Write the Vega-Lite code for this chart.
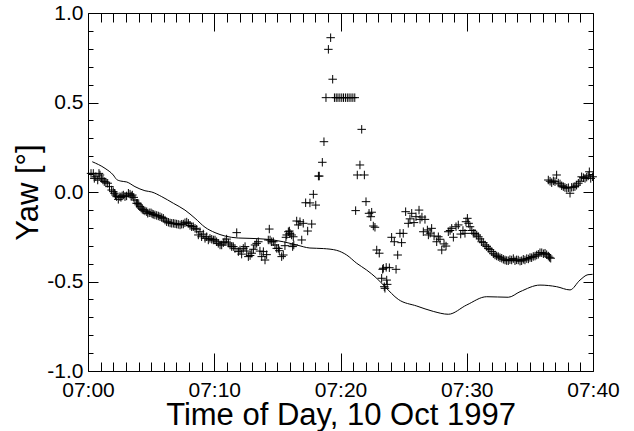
{
  "$schema": "https://vega.github.io/schema/vega-lite/v6.json",
  "width": 505,
  "height": 358,
  "autosize": {"type": "none"},
  "padding": {"left": 88, "top": 13, "right": 41, "bottom": 60},
  "background": "white",
  "config": {"view": {"stroke": null}, "font": "Liberation Sans"},
  "datasets": {
    "model": [
      {"t": 0.34, "yaw": 0.169}, {"t": 1.35, "yaw": 0.132}, {"t": 2.0, "yaw": 0.095}, {"t": 2.27, "yaw": 0.07},
      {"t": 2.6, "yaw": 0.061}, {"t": 3.07, "yaw": 0.056}, {"t": 3.72, "yaw": 0.030}, {"t": 4.51, "yaw": 0.007},
      {"t": 5.05, "yaw": 0.0}, {"t": 5.84, "yaw": -0.026}, {"t": 6.76, "yaw": -0.063}, {"t": 7.68, "yaw": -0.101},
      {"t": 8.48, "yaw": -0.147}, {"t": 9.27, "yaw": -0.197}, {"t": 10.06, "yaw": -0.227}, {"t": 10.85, "yaw": -0.246},
      {"t": 11.9, "yaw": -0.257}, {"t": 12.83, "yaw": -0.259}, {"t": 14.15, "yaw": -0.264}, {"t": 15.47, "yaw": -0.278},
      {"t": 16.53, "yaw": -0.296}, {"t": 17.58, "yaw": -0.313}, {"t": 18.64, "yaw": -0.316}, {"t": 19.7, "yaw": -0.326},
      {"t": 20.49, "yaw": -0.352}, {"t": 21.28, "yaw": -0.398}, {"t": 22.07, "yaw": -0.436}, {"t": 22.87, "yaw": -0.482},
      {"t": 23.52, "yaw": -0.529}, {"t": 24.58, "yaw": -0.6}, {"t": 26.04, "yaw": -0.637}, {"t": 27.35, "yaw": -0.667},
      {"t": 28.54, "yaw": -0.683}, {"t": 30.0, "yaw": -0.631}, {"t": 31.58, "yaw": -0.585}, {"t": 33.29, "yaw": -0.588},
      {"t": 34.22, "yaw": -0.557}, {"t": 35.8, "yaw": -0.52}, {"t": 37.12, "yaw": -0.529}, {"t": 38.18, "yaw": -0.547},
      {"t": 38.97, "yaw": -0.492}, {"t": 39.6, "yaw": -0.462}, {"t": 39.97, "yaw": -0.46}
    ],
    "measured": [
      {"t": 0.24, "yaw": 0.104}, {"t": 0.42, "yaw": 0.104}, {"t": 0.5, "yaw": 0.076}, {"t": 0.62, "yaw": 0.085},
      {"t": 0.77, "yaw": 0.067}, {"t": 0.87, "yaw": 0.104}, {"t": 0.95, "yaw": 0.095}, {"t": 1.08, "yaw": 0.076},
      {"t": 1.18, "yaw": 0.067}, {"t": 1.29, "yaw": 0.058}, {"t": 1.42, "yaw": 0.055}, {"t": 1.56, "yaw": 0.049},
      {"t": 1.7, "yaw": 0.03}, {"t": 1.87, "yaw": 0.011}, {"t": 2.0, "yaw": 0.002}, {"t": 2.09, "yaw": -0.007},
      {"t": 2.18, "yaw": -0.017}, {"t": 2.27, "yaw": -0.026}, {"t": 2.4, "yaw": -0.041}, {"t": 2.53, "yaw": -0.026},
      {"t": 2.61, "yaw": -0.03}, {"t": 2.7, "yaw": -0.022}, {"t": 2.8, "yaw": -0.017}, {"t": 2.93, "yaw": -0.026},
      {"t": 3.06, "yaw": -0.022}, {"t": 3.2, "yaw": -0.007}, {"t": 3.33, "yaw": -0.012}, {"t": 3.42, "yaw": -0.022},
      {"t": 3.51, "yaw": -0.017}, {"t": 3.62, "yaw": -0.03}, {"t": 3.72, "yaw": -0.045}, {"t": 3.85, "yaw": -0.063},
      {"t": 3.93, "yaw": -0.063}, {"t": 4.02, "yaw": -0.072}, {"t": 4.12, "yaw": -0.082}, {"t": 4.21, "yaw": -0.09},
      {"t": 4.3, "yaw": -0.097}, {"t": 4.38, "yaw": -0.101}, {"t": 4.51, "yaw": -0.106}, {"t": 4.65, "yaw": -0.11},
      {"t": 4.73, "yaw": -0.119}, {"t": 4.85, "yaw": -0.116}, {"t": 4.99, "yaw": -0.116}, {"t": 5.08, "yaw": -0.122},
      {"t": 5.17, "yaw": -0.125}, {"t": 5.3, "yaw": -0.128}, {"t": 5.44, "yaw": -0.131}, {"t": 5.57, "yaw": -0.134},
      {"t": 5.7, "yaw": -0.138}, {"t": 5.84, "yaw": -0.143}, {"t": 5.97, "yaw": -0.147}, {"t": 6.1, "yaw": -0.157},
      {"t": 6.23, "yaw": -0.166}, {"t": 6.37, "yaw": -0.169}, {"t": 6.5, "yaw": -0.173}, {"t": 6.63, "yaw": -0.175},
      {"t": 6.76, "yaw": -0.175}, {"t": 6.89, "yaw": -0.177}, {"t": 7.02, "yaw": -0.179}, {"t": 7.15, "yaw": -0.181},
      {"t": 7.29, "yaw": -0.184}, {"t": 7.42, "yaw": -0.18}, {"t": 7.55, "yaw": -0.179}, {"t": 7.68, "yaw": -0.172},
      {"t": 7.82, "yaw": -0.168}, {"t": 7.95, "yaw": -0.175}, {"t": 8.08, "yaw": -0.187}, {"t": 8.21, "yaw": -0.194},
      {"t": 8.34, "yaw": -0.194}, {"t": 8.48, "yaw": -0.203}, {"t": 8.61, "yaw": -0.208}, {"t": 8.74, "yaw": -0.24},
      {"t": 8.87, "yaw": -0.222}, {"t": 9.0, "yaw": -0.25}, {"t": 9.13, "yaw": -0.235}, {"t": 9.27, "yaw": -0.259},
      {"t": 9.4, "yaw": -0.25}, {"t": 9.53, "yaw": -0.268}, {"t": 9.66, "yaw": -0.259}, {"t": 9.8, "yaw": -0.264},
      {"t": 9.93, "yaw": -0.268}, {"t": 10.06, "yaw": -0.268}, {"t": 10.19, "yaw": -0.278}, {"t": 10.32, "yaw": -0.287},
      {"t": 10.46, "yaw": -0.296}, {"t": 10.59, "yaw": -0.296}, {"t": 10.72, "yaw": -0.283}, {"t": 10.85, "yaw": -0.278},
      {"t": 10.98, "yaw": -0.263}, {"t": 11.12, "yaw": -0.285}, {"t": 11.25, "yaw": -0.296}, {"t": 11.38, "yaw": -0.305},
      {"t": 11.51, "yaw": -0.305}, {"t": 11.64, "yaw": -0.315}, {"t": 11.78, "yaw": -0.227}, {"t": 11.91, "yaw": -0.333},
      {"t": 12.04, "yaw": -0.324}, {"t": 12.17, "yaw": -0.347}, {"t": 12.3, "yaw": -0.315}, {"t": 12.44, "yaw": -0.305},
      {"t": 12.57, "yaw": -0.33}, {"t": 12.7, "yaw": -0.361}, {"t": 12.84, "yaw": -0.355}, {"t": 12.97, "yaw": -0.342},
      {"t": 13.1, "yaw": -0.32}, {"t": 13.23, "yaw": -0.296}, {"t": 13.36, "yaw": -0.287}, {"t": 13.49, "yaw": -0.278},
      {"t": 13.62, "yaw": -0.33}, {"t": 13.76, "yaw": -0.361}, {"t": 13.89, "yaw": -0.333}, {"t": 14.02, "yaw": -0.38},
      {"t": 14.15, "yaw": -0.35}, {"t": 14.28, "yaw": -0.268}, {"t": 14.36, "yaw": -0.207}, {"t": 14.42, "yaw": -0.268},
      {"t": 14.55, "yaw": -0.278}, {"t": 14.68, "yaw": -0.278}, {"t": 14.81, "yaw": -0.296}, {"t": 14.95, "yaw": -0.315},
      {"t": 15.08, "yaw": -0.315}, {"t": 15.15, "yaw": -0.328}, {"t": 15.34, "yaw": -0.361}, {"t": 15.47, "yaw": -0.352},
      {"t": 15.6, "yaw": -0.3}, {"t": 15.68, "yaw": -0.253}, {"t": 15.74, "yaw": -0.24}, {"t": 15.87, "yaw": -0.222},
      {"t": 15.95, "yaw": -0.218}, {"t": 16.0, "yaw": -0.231}, {"t": 16.13, "yaw": -0.24}, {"t": 16.21, "yaw": -0.305},
      {"t": 16.26, "yaw": -0.25}, {"t": 16.3, "yaw": -0.296}, {"t": 16.53, "yaw": -0.162}, {"t": 16.66, "yaw": -0.184},
      {"t": 16.79, "yaw": -0.166}, {"t": 16.93, "yaw": -0.268}, {"t": 17.05, "yaw": -0.175}, {"t": 17.24, "yaw": -0.06},
      {"t": 17.4, "yaw": -0.218}, {"t": 17.58, "yaw": -0.061}, {"t": 17.72, "yaw": -0.179}, {"t": 17.85, "yaw": -0.013},
      {"t": 18.04, "yaw": -0.073}, {"t": 18.25, "yaw": 0.089}, {"t": 18.32, "yaw": 0.089}, {"t": 18.56, "yaw": 0.166},
      {"t": 18.69, "yaw": 0.281}, {"t": 18.85, "yaw": 0.527}, {"t": 19.04, "yaw": 0.797}, {"t": 19.22, "yaw": 0.862},
      {"t": 19.38, "yaw": 0.63}, {"t": 19.52, "yaw": 0.527}, {"t": 19.66, "yaw": 0.527}, {"t": 19.8, "yaw": 0.527},
      {"t": 19.95, "yaw": 0.527}, {"t": 20.1, "yaw": 0.527}, {"t": 20.24, "yaw": 0.527}, {"t": 20.39, "yaw": 0.527},
      {"t": 20.54, "yaw": 0.527}, {"t": 20.68, "yaw": 0.527}, {"t": 20.83, "yaw": 0.527}, {"t": 20.98, "yaw": 0.527},
      {"t": 21.13, "yaw": 0.527}, {"t": 21.2, "yaw": -0.104}, {"t": 21.33, "yaw": 0.095}, {"t": 21.54, "yaw": 0.151},
      {"t": 21.68, "yaw": 0.35}, {"t": 21.89, "yaw": 0.095}, {"t": 22.02, "yaw": -0.054}, {"t": 22.26, "yaw": -0.119},
      {"t": 22.4, "yaw": -0.138}, {"t": 22.47, "yaw": -0.113}, {"t": 22.6, "yaw": -0.19}, {"t": 22.73, "yaw": -0.197},
      {"t": 22.87, "yaw": -0.324}, {"t": 23.07, "yaw": -0.342}, {"t": 23.26, "yaw": -0.482}, {"t": 23.34, "yaw": -0.432},
      {"t": 23.39, "yaw": -0.426}, {"t": 23.47, "yaw": -0.529}, {"t": 23.52, "yaw": -0.538}, {"t": 23.62, "yaw": -0.421},
      {"t": 23.66, "yaw": -0.492}, {"t": 23.7, "yaw": -0.516}, {"t": 23.87, "yaw": -0.423}, {"t": 24.05, "yaw": -0.253},
      {"t": 24.26, "yaw": -0.278}, {"t": 24.4, "yaw": -0.432}, {"t": 24.53, "yaw": -0.352}, {"t": 24.71, "yaw": -0.231},
      {"t": 24.84, "yaw": -0.283}, {"t": 24.97, "yaw": -0.231}, {"t": 25.16, "yaw": -0.11}, {"t": 25.37, "yaw": -0.175},
      {"t": 25.5, "yaw": -0.15}, {"t": 25.64, "yaw": -0.119}, {"t": 25.82, "yaw": -0.171}, {"t": 25.98, "yaw": -0.138},
      {"t": 26.22, "yaw": -0.101}, {"t": 26.3, "yaw": -0.153}, {"t": 26.45, "yaw": -0.14}, {"t": 26.56, "yaw": -0.222},
      {"t": 26.69, "yaw": -0.153}, {"t": 26.88, "yaw": -0.212}, {"t": 26.96, "yaw": -0.24}, {"t": 27.1, "yaw": -0.23},
      {"t": 27.22, "yaw": -0.203}, {"t": 27.41, "yaw": -0.246}, {"t": 27.62, "yaw": -0.278}, {"t": 27.75, "yaw": -0.25},
      {"t": 27.88, "yaw": -0.264}, {"t": 28.02, "yaw": -0.324}, {"t": 28.2, "yaw": -0.29}, {"t": 28.36, "yaw": -0.302},
      {"t": 28.54, "yaw": -0.222}, {"t": 28.68, "yaw": -0.215}, {"t": 28.81, "yaw": -0.203}, {"t": 28.94, "yaw": -0.253},
      {"t": 29.15, "yaw": -0.194}, {"t": 29.33, "yaw": -0.184}, {"t": 29.52, "yaw": -0.235}, {"t": 29.7, "yaw": -0.215},
      {"t": 29.86, "yaw": -0.231}, {"t": 29.94, "yaw": -0.166}, {"t": 30.05, "yaw": -0.147}, {"t": 30.15, "yaw": -0.175},
      {"t": 30.26, "yaw": -0.194}, {"t": 30.4, "yaw": -0.215}, {"t": 30.52, "yaw": -0.231}, {"t": 30.65, "yaw": -0.231},
      {"t": 30.79, "yaw": -0.24}, {"t": 30.92, "yaw": -0.25}, {"t": 31.05, "yaw": -0.262}, {"t": 31.18, "yaw": -0.278},
      {"t": 31.31, "yaw": -0.283}, {"t": 31.45, "yaw": -0.296}, {"t": 31.58, "yaw": -0.305}, {"t": 31.71, "yaw": -0.315},
      {"t": 31.84, "yaw": -0.322}, {"t": 31.98, "yaw": -0.333}, {"t": 32.11, "yaw": -0.345}, {"t": 32.24, "yaw": -0.352},
      {"t": 32.37, "yaw": -0.357}, {"t": 32.5, "yaw": -0.361}, {"t": 32.63, "yaw": -0.367}, {"t": 32.77, "yaw": -0.37},
      {"t": 32.9, "yaw": -0.376}, {"t": 33.03, "yaw": -0.38}, {"t": 33.16, "yaw": -0.383}, {"t": 33.29, "yaw": -0.384},
      {"t": 33.42, "yaw": -0.378}, {"t": 33.56, "yaw": -0.38}, {"t": 33.69, "yaw": -0.372}, {"t": 33.82, "yaw": -0.384},
      {"t": 33.95, "yaw": -0.379}, {"t": 34.08, "yaw": -0.38}, {"t": 34.22, "yaw": -0.386}, {"t": 34.35, "yaw": -0.384},
      {"t": 34.48, "yaw": -0.376}, {"t": 34.61, "yaw": -0.38}, {"t": 34.75, "yaw": -0.372}, {"t": 34.88, "yaw": -0.374},
      {"t": 35.01, "yaw": -0.366}, {"t": 35.14, "yaw": -0.367}, {"t": 35.27, "yaw": -0.36}, {"t": 35.41, "yaw": -0.358},
      {"t": 35.54, "yaw": -0.352}, {"t": 35.67, "yaw": -0.348}, {"t": 35.8, "yaw": -0.339}, {"t": 35.94, "yaw": -0.339},
      {"t": 36.07, "yaw": -0.345}, {"t": 36.2, "yaw": -0.342}, {"t": 36.33, "yaw": -0.35}, {"t": 36.46, "yaw": -0.358},
      {"t": 36.55, "yaw": -0.365}, {"t": 36.65, "yaw": -0.37},
      {"t": 36.46, "yaw": 0.067}, {"t": 36.6, "yaw": 0.06}, {"t": 36.73, "yaw": 0.052}, {"t": 36.86, "yaw": 0.062},
      {"t": 36.99, "yaw": 0.058}, {"t": 37.12, "yaw": 0.095}, {"t": 37.25, "yaw": 0.05}, {"t": 37.39, "yaw": 0.045},
      {"t": 37.52, "yaw": 0.035}, {"t": 37.65, "yaw": 0.03}, {"t": 37.78, "yaw": 0.025}, {"t": 37.92, "yaw": 0.021},
      {"t": 38.05, "yaw": 0.024}, {"t": 38.18, "yaw": -0.007}, {"t": 38.31, "yaw": 0.026}, {"t": 38.44, "yaw": 0.028},
      {"t": 38.57, "yaw": 0.03}, {"t": 38.7, "yaw": 0.038}, {"t": 38.84, "yaw": 0.049}, {"t": 38.97, "yaw": 0.06},
      {"t": 39.1, "yaw": 0.085}, {"t": 39.24, "yaw": 0.08}, {"t": 39.37, "yaw": 0.076}, {"t": 39.5, "yaw": 0.083},
      {"t": 39.62, "yaw": 0.09}, {"t": 39.71, "yaw": 0.113}, {"t": 39.82, "yaw": 0.076}, {"t": 39.97, "yaw": 0.085}
    ]
  },
  "layer": [
    {
      "data": {"name": "model"},
      "mark": {"type": "line", "color": "black", "strokeWidth": 1, "interpolate": "monotone"},
      "encoding": {
        "x": {
          "field": "t", "type": "quantitative",
          "scale": {"domain": [0, 40], "nice": false, "zero": false},
          "axis": {
            "orient": "bottom",
            "values": [0,1,2,3,4,5,6,7,8,9,10,11,12,13,14,15,16,17,18,19,20,21,22,23,24,25,26,27,28,29,30,31,32,33,34,35,36,37,38,39,40],
            "title": "Time of Day, 10 Oct 1997",
            "titleFont": "Liberation Sans", "titleFontSize": 31, "titleFontWeight": "normal", "titleColor": "black",
            "titleBaseline": "alphabetic", "titleY": 53,
            "labelFont": "Liberation Sans", "labelFontSize": 21, "labelColor": "black",
            "labelExpr": "datum.value % 10 === 0 ? '07:' + (datum.value < 10 ? '0' : '') + datum.value : ''",
            "labelPadding": 26, "labelOverlap": false, "labelFlush": false, "labelBound": false,
            "tickSize": {"condition": {"test": "datum.value % 10 === 0", "value": -18}, "value": -9},
            "tickColor": "black", "tickWidth": 1, "domainColor": "black", "domainWidth": 1, "grid": false
          }
        },
        "y": {
          "field": "yaw", "type": "quantitative",
          "scale": {"domain": [-1, 1], "nice": false, "zero": false},
          "axis": {
            "orient": "left",
            "values": [-1,-0.9,-0.8,-0.7,-0.6,-0.5,-0.4,-0.3,-0.2,-0.1,0,0.1,0.2,0.3,0.4,0.5,0.6,0.7,0.8,0.9,1],
            "title": "Yaw [°]",
            "titleFont": "Liberation Sans", "titleFontSize": 31, "titleFontWeight": "normal", "titleColor": "black", "titlePadding": 2,
            "labelFont": "Liberation Sans", "labelFontSize": 21, "labelColor": "black",
            "labelExpr": "abs(round(datum.value * 10)) % 5 === 0 ? (datum.value < -0.01 ? '-' : '') + format(abs(datum.value), '.1f') : ''",
            "labelPadding": 15, "labelOverlap": false, "labelFlush": false, "labelBound": false,
            "tickSize": {"condition": {"test": "abs(round(datum.value * 10)) % 5 === 0", "value": -10}, "value": -5},
            "tickColor": "black", "tickWidth": 1, "domainColor": "black", "domainWidth": 1, "grid": false
          }
        }
      }
    },
    {
      "data": {"name": "measured"},
      "mark": {"type": "point", "shape": "M-1,0H1M0,-1V1", "size": 72, "filled": false, "stroke": "black", "strokeWidth": 1, "opacity": 1},
      "encoding": {
        "x": {
          "field": "t", "type": "quantitative",
          "axis": {
            "orient": "top", "title": null, "labels": false,
            "values": [0,1,2,3,4,5,6,7,8,9,10,11,12,13,14,15,16,17,18,19,20,21,22,23,24,25,26,27,28,29,30,31,32,33,34,35,36,37,38,39,40],
            "tickSize": {"condition": {"test": "datum.value % 10 === 0", "value": -18}, "value": -9},
            "tickColor": "black", "tickWidth": 1, "domainColor": "black", "domainWidth": 1, "grid": false
          }
        },
        "y": {
          "field": "yaw", "type": "quantitative",
          "axis": {
            "orient": "right", "title": null, "labels": false,
            "values": [-1,-0.9,-0.8,-0.7,-0.6,-0.5,-0.4,-0.3,-0.2,-0.1,0,0.1,0.2,0.3,0.4,0.5,0.6,0.7,0.8,0.9,1],
            "tickSize": {"condition": {"test": "abs(round(datum.value * 10)) % 5 === 0", "value": -10}, "value": -5},
            "tickColor": "black", "tickWidth": 1, "domainColor": "black", "domainWidth": 1, "grid": false
          }
        }
      }
    }
  ]
}
